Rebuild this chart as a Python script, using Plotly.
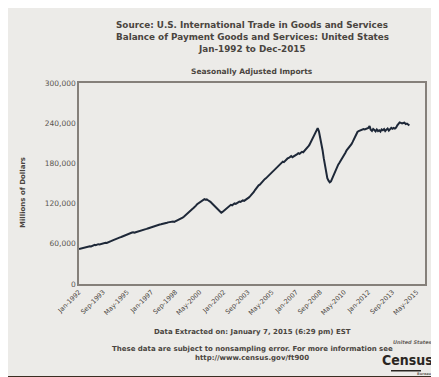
import pandas as pd
import plotly.graph_objects as go

# Monthly seasonally adjusted imports, millions of dollars, Jan-1992 .. Nov-2014
imports_1992 = [52100, 52600, 53000, 53700, 54200, 54900, 55600, 55300, 56000, 56400, 56100, 56900]
imports_1993 = [57200, 58600, 57900, 58800, 59400, 59100, 59700, 60300, 59900, 60600, 61400, 61200]
imports_1994 = [62300, 62800, 63900, 64300, 65200, 66100, 66800, 67400, 68300, 69000, 69600, 70200]
imports_1995 = [71000, 72100, 72900, 73800, 74500, 75200, 75900, 76300, 76800, 77100, 76600, 77300]
imports_1996 = [77800, 78200, 79000, 78700, 79600, 80300, 81000, 81500, 82300, 82900, 83600, 84200]
imports_1997 = [85000, 85600, 86300, 86100, 87000, 87600, 88200, 88700, 89100, 89800, 90300, 90100]
imports_1998 = [90800, 91500, 92000, 92600, 92200, 93000, 93400, 92700, 93600, 94200, 94900, 95600]
imports_1999 = [96300, 97800, 99100, 100400, 101800, 103500, 105200, 106900, 108300, 110100, 111800, 113400]
imports_2000 = [114800, 116900, 119200, 120500, 121800, 123100, 124400, 125200, 126500, 125700, 126200, 125000]
imports_2001 = [124100, 122600, 121000, 119300, 117400, 115600, 113900, 112300, 110200, 108600, 106300, 107400]
imports_2002 = [109200, 111000, 112600, 113400, 115300, 117100, 118200, 117500, 119000, 120200, 119600, 121300]
imports_2003 = [121800, 122900, 122400, 123600, 124700, 124100, 125300, 126600, 127400, 129300, 131200, 133000]
imports_2004 = [135100, 137400, 140200, 142900, 145100, 147300, 148200, 150600, 151900, 153800, 156400, 157700]
imports_2005 = [159600, 160800, 163100, 164200, 166700, 168300, 169900, 172400, 174800, 176600, 178100, 179300]
imports_2006 = [181200, 182700, 181900, 184300, 185800, 187400, 188100, 189600, 190900, 189300, 190200, 191600]
imports_2007 = [192400, 193800, 195100, 194300, 195900, 197200, 196600, 198400, 200300, 202100, 204900, 207300]
imports_2008 = [211200, 214800, 218300, 221600, 225900, 229400, 232600, 227800, 219900, 210400, 199700, 187800]
imports_2009 = [176800, 165400, 157900, 154200, 151800, 153300, 157600, 163100, 167900, 171400, 174600, 178200]
imports_2010 = [180900, 183700, 187200, 190400, 193100, 195800, 199400, 201600, 203200, 205900, 208700, 212100]
imports_2011 = [215800, 219400, 223600, 226900, 228300, 229100, 229600, 230400, 231200, 230800, 231700, 232400]
imports_2012 = [233100, 235600, 230200, 228400, 231300, 229700, 227900, 230600, 228100, 229400, 227600, 230800]
imports_2013 = [229500, 231200, 228300, 230400, 232100, 229000, 230700, 233000, 231600, 232800, 231900, 233400]
imports_2014 = [236900, 239800, 241200, 240400, 239600, 240300, 240900, 238700, 239500, 238200, 236600]

imports = (imports_1992 + imports_1993 + imports_1994 + imports_1995 + imports_1996 +
           imports_1997 + imports_1998 + imports_1999 + imports_2000 + imports_2001 +
           imports_2002 + imports_2003 + imports_2004 + imports_2005 + imports_2006 +
           imports_2007 + imports_2008 + imports_2009 + imports_2010 + imports_2011 +
           imports_2012 + imports_2013 + imports_2014)
months = pd.date_range("1992-01-01", periods=len(imports), freq="MS")

x_tick_labels = ["Jan-1992", "Sep-1993", "May-1995", "Jan-1997", "Sep-1998", "May-2000",
                 "Jan-2002", "Sep-2003", "May-2005", "Jan-2007", "Sep-2008", "May-2010",
                 "Jan-2012", "Sep-2013", "May-2015"]
x_tick_vals = [pd.to_datetime(s, format="%b-%Y") for s in x_tick_labels]
y_tick_vals = [0, 60000, 120000, 180000, 240000, 300000]

W, H = 439, 377
L, R, T, B = 71, 22, 75, 101
PW, PH = W - L - R, H - T - B

def px(x):
    return (x - L) / PW

def py(y):
    return (H - B - y) / PH

BG = "#ecebe8"
TXT = "#4a4540"
FONT = "DejaVu Sans"

fig = go.Figure()
fig.add_trace(go.Scatter(x=months, y=imports, mode="lines",
                         line=dict(color="#1e2838", width=2), hoverinfo="skip"))

fig.update_layout(
    width=W, height=H,
    margin=dict(l=L, r=R, t=T, b=B, autoexpand=False),
    paper_bgcolor=BG, plot_bgcolor=BG,
    showlegend=False,
    font=dict(family=FONT, color=TXT),
)
fig.update_xaxes(
    range=["1992-01-01", "2015-12-01"], automargin=False,
    tickvals=x_tick_vals, ticktext=x_tick_labels, tickangle=-45,
    tickfont=dict(size=6.5, color=TXT, family=FONT),
    showgrid=False, zeroline=False,
    showline=True, linecolor="#85807a", linewidth=1.5, mirror=True,
    ticks="", ticklen=0,
)
fig.update_yaxes(
    range=[0, 300000], tickvals=y_tick_vals, tickformat=",", automargin=False,
    tickfont=dict(size=7.5, color="#5a5550", family=FONT),
    showgrid=False, zeroline=False,
    showline=True, linecolor="#85807a", linewidth=1.5, mirror=True,
    ticks="", ticklen=2,
)

ann = []
def text(x, y, s, size, bold=True, xanchor="center", color=TXT, angle=0, family=FONT):
    ann.append(dict(x=px(x), y=py(y), xref="paper", yref="paper", text=(f"<b>{s}</b>" if bold else s),
                    showarrow=False, xanchor=xanchor, yanchor="middle", textangle=angle,
                    font=dict(size=size, color=color, family=family)))

text(244, 17, "Source: U.S. International Trade in Goods and Services", 8.8)
text(244, 29, "Balance of Payment Goods and Services: United States", 8.8)
text(244, 41, "Jan-1992 to Dec-2015", 8.8)
text(244, 63, "Seasonally Adjusted Imports", 7.5)
text(15, 185, "Millions of Dollars", 7, angle=-90)
text(244, 324, "Data Extracted on: January 7, 2015 (6:29 pm) EST", 7)
text(244, 341, "These data are subject to nonsampling error. For more information see", 7)
text(244, 350, "http://www.census.gov/ft900", 7)
# Census logo
text(426, 334, "<i>United States</i>", 5, xanchor="right", color="#6a6560")
text(427, 352, "Census", 14, xanchor="right", color="#2a2622", family="DejaVu Sans Condensed")
text(426, 366, "Bureau", 3.5, xanchor="right", color="#6a6560")

shapes = []
def rect(x0, y0, x1, y1, color):
    shapes.append(dict(type="rect", xref="paper", yref="paper", x0=px(x0), x1=px(x1),
                       y0=py(y1), y1=py(y0), fillcolor=color, line=dict(width=0), layer="below"))

# logo rule
rect(383, 362, 413, 363.5, "#2a2622")
# photo frame, right
rect(430, 0, 432.5, 377, "#3a2e22")
rect(432.5, 0, 434.5, 377, "#a89478")
rect(434.5, 0, 437, 377, "#2e2418")
rect(437, 0, 439, 377, "#c4b69c")
# photo frame, bottom
rect(0, 368, 439, 370.5, "#3a2e22")
rect(0, 370.5, 439, 372.5, "#a89478")
rect(0, 372.5, 439, 375, "#2e2418")
rect(0, 375, 439, 377, "#c4b69c")

fig.update_layout(annotations=ann, shapes=shapes)
fig.write_html("out.html")
